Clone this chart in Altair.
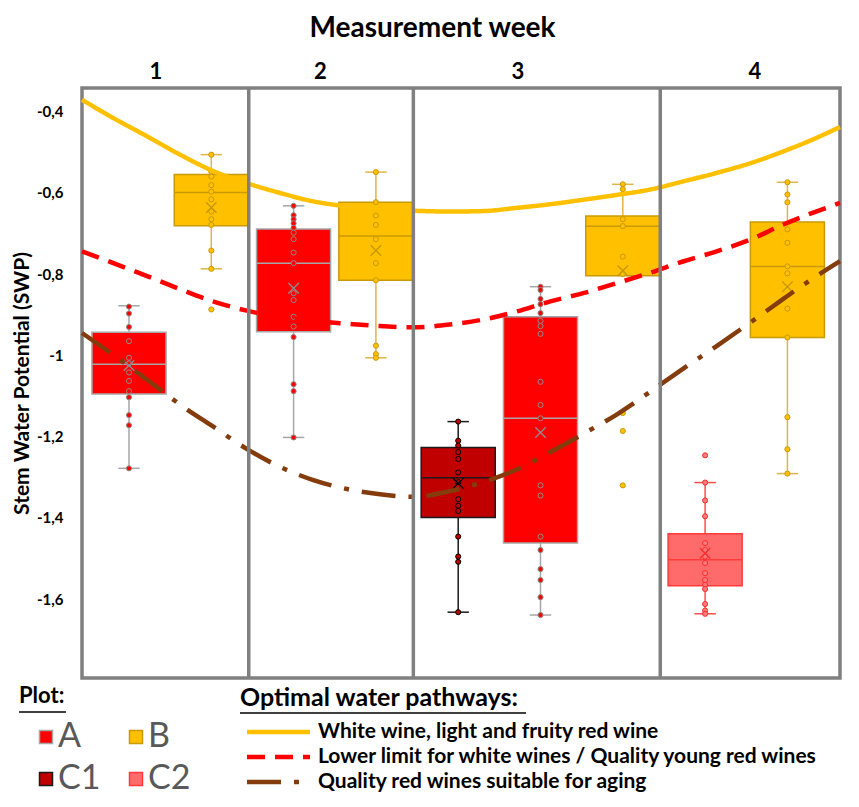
import altair as alt
import pandas as pd

# ---------------- data ----------------
plot_names = ["A", "B", "C1", "C2"]

box_plot = ["A", "B", "A", "B", "C1", "A", "B", "C2", "B"]
box_week = [1, 1, 2, 2, 3, 3, 3, 4, 4]
box_hi = [-0.878, -0.506, -0.632, -0.549, -1.163, -0.831, -0.579, -1.313, -0.574]
box_q3 = [-0.943, -0.555, -0.689, -0.623, -1.227, -0.905, -0.657, -1.439, -0.672]
box_med = [-1.022, -0.599, -0.773, -0.706, -1.301, -1.155, -0.682, -1.503, -0.781]
box_q1 = [-1.095, -0.681, -0.942, -0.815, -1.399, -1.462, -0.804, -1.567, -0.956]
box_lo = [-1.278, -0.787, -1.202, -1.006, -1.632, -1.639, -0.804, -1.636, -1.291]
box_mean = [-1.025, -0.636, -0.835, -0.742, -1.315, -1.190, -0.792, -1.487, -0.831]

pts_w1_A = [-0.880, -0.897, -0.930, -0.965, -1.006, -1.020, -1.042, -1.063, -1.088, -1.103, -1.147, -1.172, -1.278]
pts_w1_B = [-0.506, -0.548, -0.560, -0.581, -0.597, -0.616, -0.646, -0.665, -0.679, -0.742, -0.787, -0.887]
pts_w2_A = [-0.632, -0.655, -0.665, -0.675, -0.686, -0.698, -0.714, -0.747, -0.773, -0.847, -0.864, -0.905,
            -0.929, -0.955, -1.071, -1.088, -1.202]
pts_w2_B = [-0.549, -0.623, -0.656, -0.679, -0.714, -0.773, -0.815, -0.976, -0.997, -1.006]
pts_w3_C1 = [-1.163, -1.210, -1.222, -1.238, -1.255, -1.288, -1.312, -1.354, -1.370, -1.383, -1.446, -1.495,
             -1.508, -1.632]
pts_w3_A = [-0.831, -0.839, -0.861, -0.874, -0.896, -0.915, -0.928, -0.947, -1.065, -1.122, -1.155, -1.320,
            -1.345, -1.446, -1.479, -1.526, -1.553, -1.595, -1.639]
pts_w3_B = [-0.579, -0.591, -0.665, -0.682, -0.757, -0.800, -1.142, -1.186, -1.320]
pts_w4_C2 = [-1.246, -1.313, -1.357, -1.396, -1.462, -1.479, -1.495, -1.511, -1.536, -1.553, -1.565, -1.575,
             -1.612, -1.628, -1.636]
pts_w4_B = [-0.574, -0.604, -0.623, -0.690, -0.723, -0.781, -0.798, -0.885, -0.956, -1.152, -1.231, -1.291]
box_points = [pts_w1_A, pts_w1_B, pts_w2_A, pts_w2_B, pts_w3_C1, pts_w3_A, pts_w3_B, pts_w4_C2, pts_w4_B]

week_names = ["1", "2", "3", "4"]
week_label_pos = [0.32, 2.32, 4.72, 7.6]

curve_x = [-0.571, -0.19, 0.22, 0.62, 1.02, 1.43, 1.83, 2.24, 2.65, 3.05, 3.45, 3.90, 4.30, 4.71, 5.12,
           5.52, 5.93, 6.33, 6.73, 7.14, 7.55, 7.95, 8.27, 8.639]
curve_white = [-0.371, -0.416, -0.461, -0.506, -0.546, -0.576, -0.600, -0.621, -0.633, -0.640, -0.644, -0.646,
               -0.645, -0.637, -0.628, -0.617, -0.605, -0.592, -0.572, -0.551, -0.527, -0.498, -0.472, -0.438]
curve_young = [-0.744, -0.773, -0.805, -0.837, -0.867, -0.890, -0.905, -0.915, -0.922, -0.928, -0.931, -0.924,
               -0.912, -0.892, -0.867, -0.847, -0.822, -0.797, -0.769, -0.744, -0.715, -0.678, -0.652, -0.625]
curve_aging = [-0.945, -0.999, -1.060, -1.121, -1.175, -1.230, -1.274, -1.307, -1.329, -1.342, -1.348, -1.334,
               -1.312, -1.281, -1.238, -1.193, -1.145, -1.090, -1.033, -0.977, -0.919, -0.861, -0.816, -0.768]
pathway_names = [
    "White wine, light and fruity red wine",
    "Lower limit for white wines / Quality young red wines",
    "Quality red wines suitable for aging",
]

# ---------------- styles ----------------
FONT = "Lato"
style = {
    "A": dict(fill="#FF0000", edge="#A6A6A6", whisk="#A6A6A6", pfill="#FF0000", pstroke="#8C8C8C"),
    "B": dict(fill="#FFC000", edge="#C99A06", whisk="#E0B54A", pfill="#FFC000", pstroke="#C99A06"),
    "C1": dict(fill="#C00000", edge="#1A1A1A", whisk="#1A1A1A", pfill="#C00000", pstroke="#000000"),
    "C2": dict(fill="#FF6B6B", edge="#FF3B3B", whisk="#FF4B4B", pfill="#FF7A7A", pstroke="#FF2E2E"),
}
legend_order = ["A", "C1", "B", "C2"]   # column-major fill: A,C1 | B,C2 -> rows A B / C1 C2
pathway_colors = ["#FFC000", "#FF0000", "#843C0C"]
pathway_dash = [[1, 0], [18, 10], [34, 13, 5, 13]]


def num(v):
    """Signed layout number (schema only allows >= 0 literals)."""
    return {"expr": str(v)}


# ---------------- tables ----------------
box_df = pd.DataFrame({
    "pos": list(range(len(box_plot))),
    "plot": box_plot, "week": box_week,
    "hi": box_hi, "q3": box_q3, "med": box_med, "q1": box_q1, "lo": box_lo, "mean": box_mean,
})
box_df["edge"] = [style[p]["edge"] for p in box_plot]
box_df["whisk"] = [style[p]["whisk"] for p in box_plot]
box_df["pstroke"] = [style[p]["pstroke"] for p in box_plot]

pt_rows = []
for i, vals in enumerate(box_points):
    p = box_plot[i]
    for v in vals:
        pt_rows.append({"pos": i, "v": v, "pfill": style[p]["pfill"], "pstroke": style[p]["pstroke"]})
pts_df = pd.DataFrame(pt_rows)

curve_rows = []
for name, ys in zip(pathway_names, [curve_white, curve_young, curve_aging]):
    for k, (x, y) in enumerate(zip(curve_x, ys)):
        curve_rows.append({"x": x, "v": y, "pathway": name, "k": k})
curve_df = pd.DataFrame(curve_rows)

SEP_SHIFT = -0.045
seps = [(i - 1 + i) / 2 + SEP_SHIFT for i in range(1, len(box_week)) if box_week[i] != box_week[i - 1]]
sep_df = pd.DataFrame({"x": seps})

# ---------------- scales / axes ----------------
xscale = alt.Scale(domain=[-0.571, 8.639], nice=False, zero=False)
yscale = alt.Scale(domain=[-1.794, -0.342], nice=False, zero=False)

label_expr = " : ".join(
    f"datum.value < {week_label_pos[i] + 0.5} ? '{week_names[i]}'" for i in range(len(week_names) - 1)
) + f" : '{week_names[-1]}'"

xaxis = alt.Axis(orient="top", title="Measurement week", values=week_label_pos, labelExpr=label_expr,
                 domain=False, ticks=False, tickSize=0, grid=False, labelFont=FONT, labelFontSize=22,
                 labelFontWeight="bold", labelColor="black", labelPadding=5, labelAngle=0,
                 titleFont=FONT, titleFontSize=28, titleFontWeight="bold", titleColor="black",
                 titlePadding=18, titleX=350)
yaxis = alt.Axis(title="Stem Water Potential (SWP)", values=[-0.4, -0.6, -0.8, -1.0, -1.2, -1.4, -1.6],
                 labelExpr="'-' + replace(format(abs(datum.value), '.1~f'), '.', ',')",
                 domain=False, ticks=False, tickSize=0, grid=False, labelFont=FONT, labelFontSize=15,
                 labelFontWeight="bold", labelColor="black", labelPadding=19,
                 titleFont=FONT, titleFontSize=21, titleFontWeight="bold", titleColor="black",
                 titlePadding=4)


def X(field):
    return alt.X(field, type="quantitative", scale=xscale, axis=xaxis)


def Y(field):
    return alt.Y(field, type="quantitative", scale=yscale, axis=yaxis)


legend_plot = alt.Legend(
    title="Plot:", orient="none", legendX=-63, legendY=598, columns=2, padding=0,
    symbolType="square", symbolSize=169, symbolStrokeWidth=1.5, symbolOffset=10,
    labelFont=FONT, labelFontSize=34, labelColor="#595959", labelOffset=num(-5), labelLimit=1000,
    columnPadding=8, rowPadding=8,
    titleFont=FONT, titleFontSize=22, titleFontWeight="bold", titleColor="black", titlePadding=12,
)
legend_path = alt.Legend(
    title="Optimal water pathways:", orient="none", legendX=158, legendY=598, padding=0,
    symbolType="M-2.74,0L2.74,0", symbolSize=529, symbolStrokeWidth=4.5, symbolOffset=24.5,
    labelFont=FONT, labelFontSize=21, labelFontWeight="bold", labelColor="black", labelOffset=25.5,
    labelLimit=1000, rowPadding=1,
    titleFont=FONT, titleFontSize=25, titleFontWeight="bold", titleColor="black", titlePadding=7,
    titleLimit=1000,
)

fill_scale = alt.Scale(domain=legend_order, range=[style[p]["fill"] for p in legend_order])
edge_scale = alt.Scale(domain=legend_order, range=[style[p]["edge"] for p in legend_order])

base_box = alt.Chart(box_df).transform_calculate(
    x0="datum.pos - 0.45", x1="datum.pos + 0.45", c0="datum.pos - 0.13", c1="datum.pos + 0.13"
)

whisk_up = base_box.mark_rule(strokeWidth=1.5).encode(
    x=X("pos"), y=Y("q3"), y2="hi", stroke=alt.Stroke("whisk:N", scale=None))
whisk_dn = base_box.mark_rule(strokeWidth=1.5).encode(
    x=X("pos"), y=Y("q1"), y2="lo", stroke=alt.Stroke("whisk:N", scale=None))
cap_hi = base_box.mark_rule(strokeWidth=1.5).encode(
    x=X("c0"), x2="c1", y=Y("hi"), stroke=alt.Stroke("whisk:N", scale=None))
cap_lo = base_box.transform_filter("datum.lo < datum.q1").mark_rule(strokeWidth=1.5).encode(
    x=X("c0"), x2="c1", y=Y("lo"), stroke=alt.Stroke("whisk:N", scale=None))

boxes = base_box.mark_rect(strokeWidth=1.5).encode(
    x=X("x0"), x2="x1", y=Y("q1"), y2="q3",
    fill=alt.Fill("plot:N", scale=fill_scale, legend=legend_plot),
    stroke=alt.Stroke("plot:N", scale=edge_scale, legend=legend_plot),
)
median = base_box.mark_rule(strokeWidth=1.5).encode(
    x=X("x0"), x2="x1", y=Y("med"), stroke=alt.Stroke("edge:N", scale=None))

points = alt.Chart(pts_df).mark_point(shape="circle", filled=True, size=26, strokeWidth=1, opacity=1).encode(
    x=X("pos"), y=Y("v"),
    fill=alt.Fill("pfill:N", scale=None), stroke=alt.Stroke("pstroke:N", scale=None))

mean_x = base_box.mark_point(shape="M-1,-1L1,1M-1,1L1,-1", filled=False, size=110, strokeWidth=1.4,
                             opacity=1).encode(
    x=X("pos"), y=Y("mean"), stroke=alt.Stroke("pstroke:N", scale=None))

curves = alt.Chart(curve_df).mark_line(strokeWidth=4.5, interpolate="monotone").encode(
    x=X("x"), y=Y("v"), order="k:Q",
    color=alt.Color("pathway:N", scale=alt.Scale(domain=pathway_names, range=pathway_colors),
                    legend=legend_path),
    strokeDash=alt.StrokeDash("pathway:N", scale=alt.Scale(domain=pathway_names, range=pathway_dash),
                              legend=legend_path),
)

separators = alt.Chart(sep_df).mark_rule(color="#808080", strokeWidth=3.5).encode(x=X("x"))

underline1 = alt.Chart(sep_df.head(1)).mark_rule(color="black", strokeWidth=1.5).encode(
    x=alt.value(-63), x2=alt.value(-16), y=alt.value(624))
underline2 = alt.Chart(sep_df.head(1)).mark_rule(color="black", strokeWidth=1.5).encode(
    x=alt.value(158), x2=alt.value(444), y=alt.value(625))

chart = alt.layer(
    whisk_up, whisk_dn, cap_hi, cap_lo, boxes, median, points, mean_x, curves, separators,
    underline1, underline2,
).properties(
    width=758, height=590,
    autosize=alt.AutoSizeParams(type="none"),
    padding={"left": 74, "top": 80, "right": 11, "bottom": 121},
).configure(font=FONT).configure_view(stroke="#808080", strokeWidth=3.5)

chart.save("out.html", embed_options={"renderer": "svg", "actions": False})
